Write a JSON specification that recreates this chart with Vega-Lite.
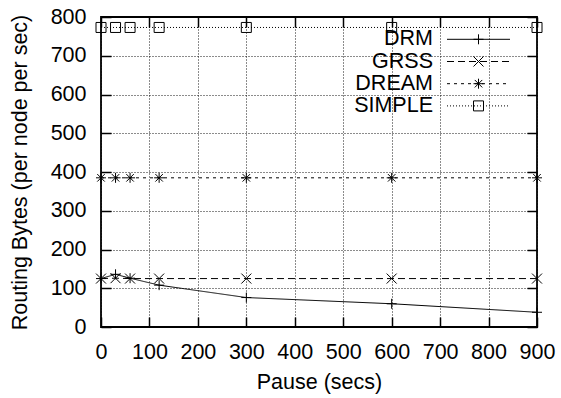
{
  "$schema": "https://vega.github.io/schema/vega-lite/v6.json",
  "width": 436,
  "height": 310,
  "autosize": {"type": "none"},
  "padding": {"left": 101, "top": 17, "right": 24, "bottom": 71},
  "background": "white",
  "config": {
    "view": {"stroke": "#000", "strokeWidth": 1.8},
    "font": "Liberation Sans",
    "axis": {
      "tickSize": -10,
      "tickColor": "#000",
      "tickWidth": 1.5,
      "domain": false,
      "labelFont": "Liberation Sans",
      "labelFontSize": 21.5,
      "labelColor": "#000",
      "labelFlush": false,
      "labelOverlap": false,
      "titleFont": "Liberation Sans",
      "titleFontSize": 21.5,
      "titleFontWeight": "normal",
      "titleColor": "#000",
      "gridColor": "#000",
      "gridDash": [1, 2],
      "gridWidth": 1,
      "gridOpacity": 0.9
    },
    "legend": {"padding": 0, "labelFont": "Liberation Sans"}
  },
  "data": {
    "values": [
      {"pause": 0, "bytes": 125, "protocol": "DRM"},
      {"pause": 30, "bytes": 136, "protocol": "DRM"},
      {"pause": 60, "bytes": 126, "protocol": "DRM"},
      {"pause": 120, "bytes": 108, "protocol": "DRM"},
      {"pause": 300, "bytes": 76, "protocol": "DRM"},
      {"pause": 600, "bytes": 60, "protocol": "DRM"},
      {"pause": 900, "bytes": 38, "protocol": "DRM"},
      {"pause": 0, "bytes": 125, "protocol": "GRSS"},
      {"pause": 30, "bytes": 126, "protocol": "GRSS"},
      {"pause": 60, "bytes": 125, "protocol": "GRSS"},
      {"pause": 120, "bytes": 125, "protocol": "GRSS"},
      {"pause": 300, "bytes": 125, "protocol": "GRSS"},
      {"pause": 600, "bytes": 125, "protocol": "GRSS"},
      {"pause": 900, "bytes": 125, "protocol": "GRSS"},
      {"pause": 0, "bytes": 385, "protocol": "DREAM"},
      {"pause": 30, "bytes": 385, "protocol": "DREAM"},
      {"pause": 60, "bytes": 385, "protocol": "DREAM"},
      {"pause": 120, "bytes": 385, "protocol": "DREAM"},
      {"pause": 300, "bytes": 385, "protocol": "DREAM"},
      {"pause": 600, "bytes": 385, "protocol": "DREAM"},
      {"pause": 900, "bytes": 385, "protocol": "DREAM"},
      {"pause": 0, "bytes": 773, "protocol": "SIMPLE"},
      {"pause": 30, "bytes": 773, "protocol": "SIMPLE"},
      {"pause": 60, "bytes": 773, "protocol": "SIMPLE"},
      {"pause": 120, "bytes": 773, "protocol": "SIMPLE"},
      {"pause": 300, "bytes": 773, "protocol": "SIMPLE"},
      {"pause": 600, "bytes": 773, "protocol": "SIMPLE"},
      {"pause": 900, "bytes": 773, "protocol": "SIMPLE"}
    ]
  },
  "layer": [
    {
      "mark": {"type": "line", "color": "#000", "strokeWidth": 1},
      "encoding": {
        "x": {
          "field": "pause", "type": "quantitative",
          "scale": {"domain": [0, 900], "nice": false, "zero": false},
          "axis": {"orient": "bottom", "title": "Pause (secs)", "values": [0, 100, 200, 300, 400, 500, 600, 700, 800, 900], "grid": true, "labelPadding": 24, "titlePadding": 9}
        },
        "y": {
          "field": "bytes", "type": "quantitative",
          "scale": {"domain": [0, 800], "nice": false},
          "axis": {"orient": "left", "title": "Routing Bytes (per node per sec)", "values": [0, 100, 200, 300, 400, 500, 600, 700, 800], "grid": true, "labelPadding": 25, "titlePadding": 19}
        },
        "strokeDash": {
          "field": "protocol", "type": "nominal",
          "scale": {"domain": ["DRM", "GRSS", "DREAM", "SIMPLE"], "range": [[1, 0], [7, 4], [3, 4], [1, 2]]},
          "legend": {
            "orient": "none", "legendX": 345.5, "legendY": 11.3, "title": null,
            "symbolType": "M-3,0H3", "symbolSize": 441, "symbolOffset": 21, "symbolStrokeWidth": 1, "symbolStrokeColor": "#000",
            "rowPadding": 0.2, "labelAlign": "right", "labelOffset": -56.5,
            "labelFontSize": 21.5, "labelColor": "#000"
          }
        }
      }
    },
    {
      "mark": {"type": "point", "filled": false, "color": "#000", "strokeWidth": 1, "size": 100, "opacity": 1},
      "encoding": {
        "x": {
          "field": "pause", "type": "quantitative",
          "axis": {"orient": "top", "labels": false, "title": null, "grid": false, "values": [0, 100, 200, 300, 400, 500, 600, 700, 800, 900]}
        },
        "y": {
          "field": "bytes", "type": "quantitative",
          "axis": {"orient": "right", "labels": false, "title": null, "grid": false, "values": [0, 100, 200, 300, 400, 500, 600, 700, 800]}
        },
        "shape": {
          "field": "protocol", "type": "nominal",
          "scale": {
            "domain": ["DRM", "GRSS", "DREAM", "SIMPLE", ""],
            "range": ["M-1,0H1M0,-1V1", "M-1,-1L1,1M-1,1L1,-1", "M-1,0H1M0,-1V1M-0.75,-0.75L0.75,0.75M-0.75,0.75L0.75,-0.75", "M-1,-1H1V1H-1Z", "M0,0"]
          },
          "legend": {
            "orient": "none", "legendX": 345.5, "legendY": 11.3, "title": null,
            "symbolSize": 100, "symbolOffset": 21, "symbolStrokeWidth": 1, "symbolStrokeColor": "#000", "symbolFillColor": "transparent",
            "rowPadding": 0.2, "labelExpr": "''", "labelFontSize": 22
          }
        }
      }
    }
  ],
  "resolve": {"axis": {"x": "independent", "y": "independent"}}
}
